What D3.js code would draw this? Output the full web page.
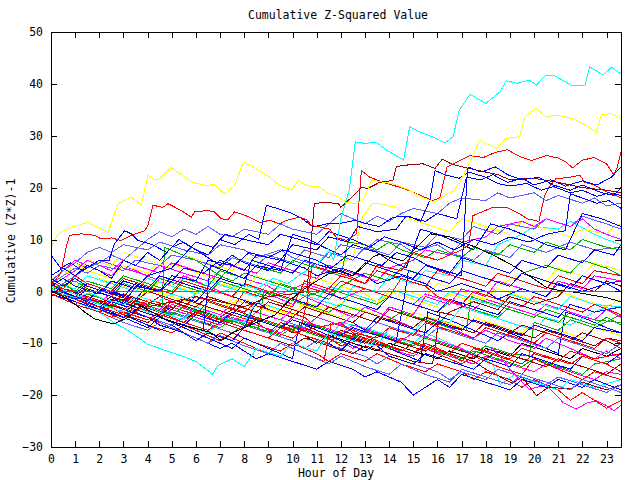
<!DOCTYPE html>
<html><head><meta charset="utf-8">
<script src="https://cdn.jsdelivr.net/npm/d3@7"></script>
<style>
html,body{margin:0;padding:0;background:#fff;}
svg{display:block;}
text{font-family:"DejaVu Sans Mono","Liberation Mono",monospace;font-size:11.5px;fill:#000;}
</style></head><body>
<svg id="c" width="640" height="480"></svg>
<script>
// ---- labels / ticks ----
const title = "Cumulative Z-Squared Value";
const xLabel = "Hour of Day";
const yLabel = "Cumulative (Z*Z)-1";
const xTickValues = [0,1,2,3,4,5,6,7,8,9,10,11,12,13,14,15,16,17,18,19,20,21,22,23];
const yTickValues = [-30,-20,-10,0,10,20,30,40,50];
const xDomain = [0, 23.6];
const yDomain = [-30, 50];

// ---- colours ----
const RED="#ff0000", GREEN="#00b000", BLUE="#0000ff", MAGENTA="#ff00ff", CYAN="#00ffff",
      DARKRED="#a00000", YELLOW="#ffff00", BLACK="#000000", LTBLUE="#6060ff";

// ---- series: [hour, value] ----
const cyanTop=[[0,0.5],[0.5,-0.5],[1,-1.2],[1.6,-0.3],[2.2,-1.5],[3,-2.5],[3.6,-1],[4.4,-2],[5,-0.5],[5.7,-1.5],[6.3,0.5],[7,-0.5],[7.8,1.5],[8.5,0.5],[9.2,2.5],[9.8,1.5],[10.4,3.5],[11,5],[11.5,8],[11.7,6],[12,14],[12.35,19.5],[12.6,28.8],[13.05,28.5],[13.45,28.8],[13.9,27.2],[14.6,25.3],[14.85,31.7],[15.3,30.7],[15.9,29.6],[16.3,28.6],[16.65,29.8],[16.9,34.9],[17.35,38],[18,36.2],[18.6,38.5],[18.85,40.6],[19.3,40.1],[19.8,40.7],[20.1,39.8],[20.5,41.7],[20.8,41.7],[21.6,39.6],[22.1,39.6],[22.3,43.3],[22.85,41.7],[23.2,43.2],[23.6,41.9]];
const cyan2=[[0,1],[1,-0.5],[2,-2.5],[3,-4],[3.5,-2],[4.5,-4],[5.5,-5.5],[6,-3],[7,-5],[8,-6],[8.5,-2],[9.5,-3.5],[10,0],[11,-1.5],[12,-3],[12.5,1],[13.5,0],[14,3],[15,1.5],[15.5,4],[16.5,3],[17,6],[18,5],[18.5,9],[19.5,11],[20,12.5],[21,12],[21.5,13.5],[22.5,11],[23,10],[23.6,9]];
const cyan3=[[0,0],[0.5,-1],[1,-2],[1.5,-3],[2,-4],[2.6,-6],[3,-7],[3.5,-8.5],[4,-10.2],[4.5,-11],[5.4,-12.4],[6,-13.5],[6.7,-16],[6.9,-14.3],[7.5,-13],[8,-14.5],[8.5,-11],[9.5,-12.5],[10,-10],[11,-11.5],[11.5,-8],[12.5,-9.5],[13.5,-10.5],[14,-7],[15,-8],[15.5,-5],[16.5,-6],[17,-3],[18,-4.5],[19,-6],[20,-7.5],[20.5,-5],[21.5,-6.5],[22.5,-4],[23,-3],[23.6,-5]];
const cyan4=[[0,0.5],[1,-1.5],[2,-3],[3,-5],[3.5,-3],[4.5,-5],[5.5,-6.5],[6.5,-8],[7,-6],[8,-7.5],[9,-9],[9.5,-6],[10.5,-7.5],[11.5,-9],[12,-6],[13,-7],[14,-8.5],[15,-10],[15.5,-8],[16.5,-10],[17.5,-12],[18.3,-14],[18.6,-18],[19.2,-16],[20,-17.5],[21,-19],[21.5,-17],[22.5,-18.5],[23.6,-17]];
const cyan5=[[0,1.5],[1,0.5],[1.5,3],[2.5,1.5],[3.5,0],[4,2.5],[5,1],[6,-0.5],[6.5,2],[7.5,0.5],[8.5,-1],[9,1.5],[10,0],[11,-1.5],[11.5,1],[12.5,-0.5],[13.5,-2],[14,0.5],[15,-1],[16,-2.5],[16.5,0],[17.5,-1.5],[18.5,-3],[19,-0.5],[20,-2],[21,-3.5],[21.5,-1],[22.5,-2.5],[23.6,-3]];

const yellowTop=[[0,8.5],[0.3,11.1],[0.77,12.3],[1.53,13.3],[2.36,11.4],[2.78,16.9],[3.32,18.2],[3.74,16.6],[4.01,22.4],[4.29,21.5],[4.5,21.7],[4.98,23.9],[5.81,21.1],[6.36,20.4],[6.77,20.6],[7.19,18.8],[7.6,20.4],[7.96,24.9],[8.37,24],[9.06,22],[9.47,20.4],[9.96,19.5],[10.23,21.4],[10.58,20.4],[11.13,20.1],[11.4,19.1],[11.89,18.2],[12.23,17.2],[12.58,16.9],[12.92,17.5],[13.27,21.4],[14.1,20.8],[14.71,19.8],[15.34,18.2],[15.89,17.2],[16.3,18.5],[16.7,19.5],[17.1,22.5],[17.47,26.2],[17.75,29.1],[18.16,28.2],[18.44,27.5],[18.85,29.5],[19.4,29.8],[19.61,33.6],[20.09,35.3],[20.51,33.6],[20.92,34],[21.61,33.3],[22.16,32],[22.58,30.7],[22.78,34],[23.2,34.3],[23.6,33.3]];
const yellow2=[[0,2],[0.5,4],[1,3],[1.5,6],[2.5,5],[3,7.5],[4,6],[5,4.5],[5.5,7],[6.5,5.5],[7.5,4],[8,6.5],[9,5],[10,3.5],[10.5,6],[11.5,4.5],[12.5,6.5],[12.9,14.3],[13.3,16.9],[13.6,16.9],[14.3,16.2],[14.7,14.3],[15.5,13],[16.5,11.5],[17,14],[18,12.5],[19,11],[19.5,13.5],[20.5,12],[21.5,10.5],[22,12],[23,11],[23.4,13],[23.6,12.7]];
const yellow3=[[0,1],[0.5,3],[1,5.5],[1.5,4],[2.5,2.5],[3,5],[4,3.5],[4.5,6],[5.5,4.5],[6.5,3],[7,1.5],[8,0],[8.5,3],[9.5,1.5],[10.5,0],[11,2.5],[12,1],[13,-0.5],[13.5,-2],[14.5,0.5],[15.5,-1],[16,1.5],[17,0],[18,-1.5],[18.5,1],[19.5,3.5],[20.5,2],[21,4.5],[22,3],[22.5,5.5],[23.6,4]];
const yellow4=[[0,0],[1,-1.5],[1.5,1],[2.5,-0.5],[3.5,-2],[4,0.5],[5,-1],[6,-2.5],[7,-4],[7.5,-1.5],[8.5,-3],[9.5,-4.5],[10,-2],[11,-3.5],[12,-5],[12.5,-3],[13.5,-4.5],[14.5,-6],[15,-4],[16,-5.5],[17,-7],[17.5,-5],[18.5,-6.5],[19.5,-8],[20,-6],[21,-7.5],[22,-9],[22.5,-7],[23.6,-8.5]];
const yellow5=[[0,0.5],[1,1.5],[1.5,0],[2,2.5],[3,1],[4,-0.5],[4.5,2],[5.5,0.5],[6.5,-1],[7,-3],[8,-1.5],[9,-3],[10,-4.5],[10.5,-2],[11.5,-3.5],[12.5,-1],[13.5,-2.5],[14,0],[15,-1.5],[16,-3],[16.5,-0.5],[17.5,-2],[18.5,0.5],[19.5,-1],[20.5,-2.5],[21,0],[22,-1.5],[23,-3],[23.6,-1.5]];

const redUpper=[[0,1],[0.4,3.5],[0.63,8.5],[0.77,10.8],[1.25,11.1],[1.81,10.8],[2.08,10.1],[2.5,10.3],[2.91,9.8],[3.32,10.8],[3.88,11.7],[4.01,12.7],[4.22,16.6],[4.63,16.2],[4.84,16.9],[5.39,15.6],[5.81,14.3],[5.94,15.3],[6.5,15.6],[6.77,15.3],[7.05,14],[7.32,13.8],[7.6,15.3],[7.94,14.8],[8.23,14.3],[8.65,13.3],[9.06,13.7],[9.47,13],[9.75,13.7],[10.3,14.3],[10.58,13.8],[10.79,12.7],[11.13,12.4],[11.54,12],[11.82,10.4],[12.23,9.8],[12.65,11.1],[12.85,23.3],[13.2,22],[13.9,20.8],[14.5,20],[15,19.1],[15.8,17.5],[16.1,18],[16.4,24],[17.34,26.2],[17.9,25.8],[18.4,26.8],[18.9,27.3],[19.4,26],[19.9,25.2],[20.5,26.2],[21,25.7],[21.3,25],[21.6,23.8],[22,25.3],[22.5,25.8],[23,24.6],[23.3,22.5],[23.45,24],[23.6,26.8]];
const redB=[[0,-0.5],[0.5,-1.5],[1,-2.5],[1.5,-1],[2.5,-2.5],[3.5,-4],[4,-1.5],[5,-3],[6,-4.5],[6.5,-2],[7.5,-3.5],[8,0],[9,-1.5],[10,-3],[10.5,2],[11.5,0.5],[12,3],[13,1.5],[13.5,5],[14.5,4],[15,7.5],[16,6],[17,8],[17.3,9],[17.47,14.6],[18.3,16.2],[18.85,16.2],[19.4,15],[19.7,14],[20.2,13.5],[20.44,18.5],[20.6,20],[20.9,21.7],[21.5,22],[21.9,22.4],[22.1,21],[22.5,20.5],[22.86,19.5],[23.27,18.7],[23.6,18]];
const redLow1=[[0,0],[0.5,-1],[1,-2],[1.5,-3],[2,-4],[2.5,-3],[3,-4.5],[3.5,-5.5],[4,-6.5],[5,-8],[5.5,-6.5],[6.5,-8.5],[7,-9.5],[7.5,-8],[8.5,-10],[9.5,-11.5],[10,-10],[11,-12],[11.5,-13.5],[12,-12],[13,-13.5],[13.5,-12],[14.5,-14],[15.5,-15.5],[16,-14],[17,-15.5],[17.5,-17],[18,-15.5],[19,-17],[19.5,-18.5],[20,-17],[21,-19],[21.5,-21],[22,-19.5],[22.5,-21],[23,-22.5],[23.6,-21]];
const redLow2=[[0,0.5],[1,-1],[2,-2.5],[2.5,-1],[3.5,-3],[4.5,-4.5],[5,-2.5],[6,-4],[7,-6],[7.5,-4.5],[8.5,-6],[9,-7.5],[10,-9],[10.5,-7],[11.5,-9],[12,-10.5],[13,-9],[14,-10.5],[15,-12],[15.5,-10],[16.5,-12],[17,-13.5],[17.5,-11],[18.5,-12.5],[19.5,-14],[20,-12],[21,-13.5],[21.5,-11.5],[22.5,-13],[23.6,-12]];
const redLow3=[[0,1],[1,0],[1.5,2],[2.5,0.5],[3,-1],[4,-2.5],[4.5,-1],[5.5,-3],[6,-1],[7,-2.5],[8,-4],[8.5,-2],[9.5,-3.5],[10.5,-5],[11,-7],[12,-6],[12.5,-8],[13.5,-9],[14,-7],[15,-8.5],[15.5,-6],[16.5,-7.5],[17.5,-9],[18,-7],[19,-8.5],[20,-10],[20.5,-8],[21.5,-9.5],[22.5,-11],[23,-9],[23.6,-10]];
const redLow4=[[0,-0.5],[0.5,-1.5],[1,-2.5],[2,-4],[2.5,-5],[3,-4],[4,-5.5],[4.5,-4],[5.5,-6],[6.5,-7.5],[7,-6],[8,-7.5],[9,-9],[9.5,-7],[10.5,-8.5],[11.5,-10],[12,-8],[13,-9.5],[14,-11],[14.5,-9],[15.5,-10.5],[16.5,-12],[17,-10],[18,-11.5],[19,-13],[19.5,-11],[20.5,-12.5],[21.5,-14],[22,-12.5],[23,-14],[23.6,-15.5]];
const redMid=[[0,2],[0.5,0.5],[1,3],[1.5,1.5],[2.5,0],[3,2.5],[4,1],[5,-0.5],[5.5,2],[6.5,0.5],[7.5,-1],[8,1.5],[9,0],[10,-1.5],[10.5,1],[11.5,-0.5],[12,2],[13,0.5],[14,-1],[14.5,2.5],[15.5,1],[16,4],[17,2.5],[18,1],[18.5,3.5],[19.5,2],[20.5,0.5],[21,3],[22,1.5],[22.5,4],[23.6,3]];
const redMid2=[[0,0],[1,-1.5],[2,-3],[3,-4.5],[3.5,-3],[4.5,-4.5],[5.5,-6],[6,-4],[7,-5.5],[8,-7],[8.5,-5],[9.5,-6.5],[10.3,-8],[10.6,-2],[10.8,5],[11.5,4],[12.3,3],[13,1.5],[13.5,4],[14.5,2.5],[15.5,1],[16,-1],[17,-2.5],[17.5,0],[18.5,-1.5],[19.5,-3],[20,-1],[21,-2.5],[22,-4],[22.5,-2.5],[23.6,-4.5]];
const redX=[[0,0.5],[1,-1.5],[2,-3.5],[3,-5.5],[3.5,-4],[4.5,-6],[5.5,-8],[6.5,-10],[7,-8],[8,-10],[9,-12],[9.5,-10],[10.5,-12],[11.3,-13.5],[11.6,-6],[12.5,-7.5],[13.5,-9.5],[14.5,-11.5],[15,-10],[16,-12],[17,-14],[17.5,-12.5],[18.5,-14.5],[19.5,-16],[20,-13],[21,-15],[22,-17],[22.5,-15.5],[23.6,-17]];

const darkredUpper=[[0,0],[1,-1],[2,-2],[3,-1.5],[4,-3],[5,-2],[6,-1],[7,-2],[8,-3],[9,-1],[10,-0.5],[10.6,0],[10.9,16.9],[11.3,17.2],[11.9,16.9],[12,16.2],[12.6,18.8],[12.85,20.1],[13.1,19.8],[13.6,21],[14.16,21.4],[14.3,24],[14.6,24.3],[15.4,24.6],[15.9,23.7],[16.2,25.5],[16.6,24.5],[17.5,23.5],[18.5,22.5],[19,21.5],[20,21.8],[21,21],[22,20],[23,19.5],[23.6,19]];
const darkred2=[[0,0],[1,-1],[2,-2.5],[2.5,-1],[3.5,-2.5],[4.5,-4],[5,-2],[6,-3.5],[7,-5],[7.5,-3.5],[8.5,-5],[9.5,-6.5],[10,-8],[11,-7],[12,-8.5],[13,-10],[13.5,-8.5],[14.5,-10],[15.5,-11.5],[16,-10],[17,-11.5],[18,-13],[18.5,-11.5],[19.5,-13],[20.5,-14.5],[21,-13],[22,-14.5],[23,-16],[23.6,-14]];
const darkred3=[[0,1],[1,-0.5],[2,-2],[3,-3.5],[3.5,-2],[4.5,-3.5],[5.5,-5],[6.5,-6.5],[7,-5],[8,-6.5],[9,-8],[9.5,-6],[10.5,-7.5],[11.5,-9],[12,-7.5],[13,-9],[14,-10.5],[15,-12],[15.5,-10.5],[16.5,-12],[17.5,-13.5],[18,-15],[19.1,-17.7],[19.5,-16.5],[20.1,-20.1],[20.6,-18.5],[21.5,-18.8],[22,-17.5],[23,-19],[23.6,-18]];
const darkred4=[[0,-1],[0.5,0.5],[1.5,-1],[2.5,-2.5],[3,-0.5],[4,-2],[5,-3.5],[5.5,-1.5],[6.5,-3],[7.5,-4.5],[8,-2],[9,-3.5],[10,-5],[10.5,-3],[11.5,-4.5],[12.5,-6],[13,-4],[14,-5.5],[15,-7],[15.5,-5],[16.5,-6.5],[17.5,-8],[18,-6],[19,-7.5],[20,-9],[20.5,-7.5],[21.5,-9],[22.5,-10.5],[23,-9],[23.6,-9.5]];
const darkred5=[[0,0.5],[1,-1],[1.5,1],[2.5,-0.5],[3.5,-2],[4,0],[5,-1.5],[6,-3],[6.5,-1],[7.5,-2.5],[8.5,-4],[9,-2],[10,-3.5],[11,-5],[11.5,-3],[12.5,-4.5],[13.5,-6],[14,-3.5],[15,-5],[16,-6.5],[16.5,-4],[17.5,-2],[18.5,-3.5],[19,-1],[20,-2.5],[21,-1],[21.5,1.5],[22.5,0],[23,2],[23.6,1]];
const darkredX=[[0,0],[1,-1.5],[2,-3],[3,-4.5],[4,-6],[4.5,-4.5],[5.5,-6],[6.5,-7.5],[7,-6],[8,-7.5],[9,-9],[10,-10.5],[10.5,-9],[11.5,-10.5],[12.5,-12],[13,-10.5],[14,-12],[15,-13.5],[15.8,-14],[16.1,-4],[17,-5],[18,-6.5],[19,-8],[19.5,-6.5],[20.5,-8],[21.5,-9.5],[22,-8],[23,-9.5],[23.6,-11]];

const blueHi1=[[0,7],[0.4,4.5],[0.8,5.5],[1.3,4],[2,6],[2.4,5.9],[2.63,9.2],[3.05,11.7],[3.32,11.1],[3.6,9.8],[4.2,9],[4.8,7.5],[5.3,10],[5.8,8.5],[6.5,7],[7,10],[7.6,9],[8.2,11],[8.6,10],[8.92,16.6],[9.5,15.8],[10,15],[10.4,14],[10.85,12.4],[11.4,13],[11.96,13.1],[12.6,13.7],[13.1,13],[13.6,12.5],[14.16,14.3],[14.8,14.5],[15.3,13.5],[15.68,17.5],[15.9,23.3],[16.3,22.5],[16.9,21.8],[17.3,23],[18,22],[18.5,20.8],[19,20.3],[19.7,20.8],[20.3,19.5],[20.8,20.2],[21.5,19],[22,19.5],[22.6,18.3],[23.1,19],[23.6,18.5]];
const blueHi2=[[0,0.5],[0.5,-0.5],[1,-1.5],[1.5,0.5],[2.5,-1],[3,-2.5],[3.5,1],[4.5,0],[5,3],[6,2],[6.5,6],[7.5,5],[8,4],[8.5,7],[9.5,6],[10,9],[11,8],[11.5,10.5],[12.3,9.5],[12.7,12.5],[13.5,11.5],[14.3,12],[14.7,14.5],[15.5,13.5],[16,15],[16.8,14],[17.2,22],[17.8,21.5],[18.3,22.5],[18.9,21],[19.5,21.8],[20,20.5],[20.7,21.5],[21.3,20.3],[22,21.3],[22.6,20.5],[23.2,22],[23.6,24]];
const blueHi3=[[0,1],[0.5,2.5],[1,1],[2,-0.5],[2.5,2],[3.5,0.5],[4,3],[5,4.5],[5.5,7],[6,9.5],[6.7,8.5],[7.2,11],[8,10],[9,9],[9.5,11],[10.3,10],[11,9],[11.5,11.5],[12.5,10],[13.2,8.5],[13.8,10.5],[14.5,9.5],[15.3,8],[16,9.5],[16.7,8],[17.5,10],[18.3,9],[19,10.5],[19.8,9.5],[20.5,11],[21.3,11.7],[21.5,18.8],[22,18],[22.6,17],[23.1,17.5],[23.6,16]];
const blueHi4=[[0,1.5],[0.5,0],[1,-1],[1.5,-2],[2,0.5],[3,-1],[3.5,1.5],[4.5,0],[5,2],[5.5,4.5],[6.3,3.5],[7,6],[7.6,5],[8.2,7.5],[9,6.5],[9.6,8],[10.3,7],[11,6],[11.6,4.5],[12.3,7],[13,6],[13.7,5],[14.3,7.5],[15,6.5],[15.6,5],[16.3,4],[17,3],[17.25,24],[17.8,23],[18.4,24],[18.9,22.5],[19.5,21.5],[20.2,22],[20.8,20.5],[21.5,19.5],[22,20.5],[22.8,19],[23.3,18.5],[23.6,20]];
const blueMid1=[[0,3],[0.5,4.5],[1,3],[1.5,5],[2,4],[2.5,2.5],[3,6],[3.5,5],[4,7.5],[4.5,6],[5,8.5],[5.5,9.5],[6,8],[6.5,6.5],[7,5],[7.5,7],[8,5.5],[9,4],[9.5,6],[10.5,4.5],[11,3],[12,4.5],[13,3],[13.5,1.5],[14.5,3],[15.5,1.5],[16,0],[17,1.5],[18,0],[18.5,-1.5],[19.5,0.5],[20.5,-1],[21,1.5],[22,0],[23,1.5],[23.6,2]];
const blueMid2=[[0,0],[1,-1.5],[2,-3],[2.5,-1.5],[3.5,-3],[4.5,-4.5],[5,-3],[6,-4.5],[7,-6],[7.5,-4],[8.5,-5.5],[9.5,-7],[10,-5.5],[11,-7],[12,-8.5],[12.5,-7],[13.5,-8.5],[14.3,-9.5],[14.6,-2],[14.8,4],[15.5,3],[16.5,1.5],[17,4],[18,2.5],[19,1],[19.5,3.5],[20.5,2],[21.5,0.5],[22,3],[23,1.5],[23.6,0]];
const blueMid3=[[0,2.5],[0.5,1],[1,2.5],[1.5,1],[2.5,-0.5],[3,2],[4,0.5],[4.5,3],[5.5,1.5],[6.5,0],[7,2.5],[8,1],[8.3,6],[9,5],[10,3.5],[10.5,6],[11.5,4.5],[12.5,3],[13,5.5],[14,4],[15,2.5],[15.5,5],[16.5,3.5],[17,6.5],[18,5],[19,3.5],[19.5,6],[20.5,4.5],[21,7],[22,5.5],[22.5,8],[23.3,7],[23.6,9]];
const blueMid4=[[0,1],[1,-0.5],[1.5,1.5],[2.5,0],[3.5,-1.5],[4,1],[5,-0.5],[6,-2],[6.5,0.5],[7.5,-1],[8.5,-2.5],[9,0],[10,-1.5],[11,-3],[11.5,-0.5],[12.5,-2],[13.5,-3.5],[14,-1],[15,-2.5],[16,-4],[16.5,-1.5],[17.5,-3],[18.5,-4.5],[19,-2],[20,-3.5],[21,-5],[21.5,-2.5],[22.5,-4],[23.6,-3]];
const blueLow1=[[0,0],[0.5,-1],[1,-2],[1.5,-3],[2,-4],[2.5,-5],[3,-4],[3.5,-5.5],[4,-6.5],[4.5,-7.5],[5,-6.5],[5.5,-8],[6,-9],[7,-11],[7.5,-10],[8,-11.5],[8.5,-13],[9,-12],[10,-13.5],[11,-15],[11.5,-13.5],[12.5,-15],[13,-16.5],[13.5,-15.5],[14.5,-17.5],[15,-20],[15.5,-18.5],[16,-17],[16.5,-18.5],[17,-16],[18,-17.5],[19,-19],[19.5,-17],[20.5,-18.5],[21,-17],[22,-18.5],[22.5,-17],[23.6,-19]];
const blueLow2=[[0,-0.5],[1,-2],[2,-3.5],[2.5,-2],[3.5,-3.5],[4.5,-5],[5.5,-6.5],[6,-4.5],[7,-6],[8,-7.5],[9,-9],[9.5,-7],[10.5,-8.5],[11.5,-10],[12,-11.5],[12.5,-9],[13.5,-10.5],[14,-12.5],[15,-14],[15.5,-12],[16.5,-13.5],[17.5,-15],[18,-13],[19,-14.5],[19.5,-12],[20.5,-13.5],[21.5,-15],[22,-12.5],[23,-14],[23.6,-12]];
const blueLow3=[[0,0.5],[0.5,-0.5],[1,-1.5],[1.5,-2.5],[2,-3.5],[2.5,-2.5],[3,-3.5],[4,-5],[4.5,-6.5],[5.5,-8],[6,-9.5],[6.5,-8],[7.5,-9.5],[8,-7],[8.5,-2],[9,-3.5],[10,-5],[10.5,-3],[11.5,-4.5],[12.5,-6],[13,-7.5],[13.5,-5],[14.5,-6.5],[15.5,-8],[16,-6],[17,-7.5],[17.5,-5.5],[18.5,-7],[19.5,-8.5],[20,-6.5],[21,-8],[22,-9.5],[22.5,-7],[23.6,-8]];
const blueX1=[[0,0],[1,-2],[2,-3.5],[3,-5],[3.5,-3.5],[4.5,-5],[5.5,-6.5],[6.3,-7.5],[6.6,5],[7.2,4],[8,2.5],[8.5,5],[9.5,4],[10,11],[10.7,10],[11.3,8.5],[12,7],[12.5,9],[13.5,7.5],[14,6],[14.7,4.5],[15.3,12],[16,11],[16.8,9.5],[17.5,8],[18.2,13],[19,12],[19.8,10.5],[20.5,9],[21.3,8],[22,15],[22.8,14],[23.6,12.5]];
const blueX2=[[0,1],[1,-1],[2,-3],[3,-5],[4,-7],[4.5,-5],[5.5,-7],[6.5,-9],[7.5,-11],[8,-9],[9,-11],[10,-13],[10.3,-6],[11,-7.5],[12,-9.5],[13,-11.5],[13.5,-10],[14.5,-12],[15.3,-13.5],[15.6,-4],[16.5,-5.5],[17.5,-7.5],[18.5,-9.5],[19,-8],[20,-10],[21,-12],[21.3,-4],[22,-5],[23,-7],[23.6,-8]];

const ltblue1=[[0,0],[0.5,1.5],[1,3],[1.5,4.5],[2,5.5],[2.5,7],[3,6],[3.5,8],[4,10],[4.5,11.5],[5,10.5],[5.5,12],[6,11],[6.5,12.5],[7,11],[7.5,10.5],[8,12],[9,11],[9.5,13],[10,12],[11,11],[11.5,13],[12,15],[12.5,14],[13,13],[13.5,14.5],[14,13.5],[14.5,15],[15,16],[16,15],[16.5,17],[17,18],[18,17.5],[18.5,19],[19,18],[20,19],[20.5,17.5],[21,18.5],[22,17],[22.5,18],[23,16.5],[23.6,17]];
const ltblue2=[[0,1.5],[0.5,3],[1,4.5],[1.5,3.5],[2,5],[3,4],[3.5,6],[4.5,5],[5,7],[6,6],[7,4.5],[7.5,6.5],[8.5,5],[9,7],[10,5.5],[10.5,8],[11.5,6.5],[12,9],[13,8],[13.5,10],[14.5,9],[15,7.5],[16,9],[16.5,7.5],[17.5,6],[18,8],[19,6.5],[19.5,9],[20.5,7.5],[21.5,9.5],[22.5,8],[23.6,8.5]];
const ltblue3=[[0,0],[1,-1.5],[2,-3],[2.5,-4.5],[3,-3.5],[4,-5],[5,-6.5],[5.5,-5],[6.5,-6.5],[7.5,-8],[8,-6.5],[9,-8],[10,-9.5],[10.5,-11],[11,-9.5],[12,-11],[13,-12.5],[13.5,-14],[14,-12.5],[15,-14],[16,-15.5],[16.5,-17],[17,-15.5],[18,-17],[18.5,-15],[19.5,-16.5],[20.5,-18],[21,-16.5],[22,-18],[23,-19.5],[23.6,-18]];
const ltblue4=[[0,0.5],[1,-1],[2,-2.5],[3,-4],[3.5,-2],[4.5,-3.5],[5.5,-5],[6,-3],[7,-4.5],[8,-6],[8.5,-4],[9.5,-5.5],[10.5,-7],[11,-5],[12,-6.5],[13,-8],[13.5,-6],[14.5,-7.5],[15.5,-9],[16,-7],[17,-8.5],[18,-10],[18.5,-8],[19.5,-9.5],[20.5,-11],[21,-9],[22,-10.5],[23,-12],[23.6,-10]];
const ltblue5=[[0,2],[0.5,4],[1,5.5],[1.5,7.5],[2,8.5],[2.5,7.5],[3,9],[4,8],[4.5,9.5],[5.5,8],[6.5,7],[7,9],[8,8],[8.5,6.5],[9.5,8],[10,6.5],[11,5],[11.5,7.5],[12.5,6],[13,8.5],[14,7],[14.5,9.5],[15.5,8.5],[16,11],[17,10],[17.5,12.5],[18.5,11],[19,13],[20,12],[20.5,14],[21.5,12.5],[22,14.5],[23,13],[23.6,12]];
const ltblueX=[[0,0],[1,-2],[2,-4],[3,-6],[4,-7.5],[4.5,-6],[5.5,-8],[6.5,-10],[7,-8.5],[8,-10.5],[9,-12],[9.5,-10],[10.5,-12],[11.5,-14],[12,-12.5],[13,-14.5],[14,-16],[14.5,-14],[15.5,-16],[16.5,-17.5],[17,-15],[18,-16.5],[19,-18],[19.5,-16],[20.5,-17.5],[21.5,-19],[22,-17],[23,-18.5],[23.6,-19.5]];

const mag1=[[0,0.5],[1,-1],[2,-2.5],[2.5,-1],[3.5,-2.5],[4.5,-4],[5,-2.5],[6,-4],[7,-5.5],[7.5,-4],[8.5,-5.5],[9.5,-7],[10,-5],[11,-6.5],[12,-8],[12.5,-6.5],[13.5,-8],[14.5,-9.5],[15,-8],[16,-9.5],[17,-11],[17.5,-12.5],[18.3,-11],[19,-15],[19.8,-18.9],[20.5,-18],[21.2,-21.4],[21.75,-22.7],[22.2,-21.5],[22.58,-21.1],[23,-22],[23.3,-23],[23.6,-22]];
const mag2=[[0,1],[0.5,2.5],[1,4],[1.5,6],[2,5],[2.5,4],[3,6],[3.5,5],[4.5,3.5],[5,5.5],[6,4],[7,2.5],[7.5,5],[8.5,3.5],[9,5.5],[10,4],[11,2.5],[11.5,5],[12.5,3.5],[13.5,2],[14,4.5],[15,6],[15.5,8],[16.5,7],[17,9.5],[18,10.5],[18.5,12.5],[19.5,13.5],[20,12.5],[20.5,14],[21.5,12.5],[22,14],[22.5,12],[23,11],[23.6,10]];
const mag3=[[0,2],[0.5,4],[1,5.5],[1.5,4.5],[2,6],[3,4.5],[4,3],[4.5,5],[5.5,3.5],[6.5,2],[7,4],[8,2.5],[9,1],[9.5,-0.5],[10.5,1.5],[11.5,0],[12,-1.5],[13,0.5],[14,-1],[15,-2.5],[15.5,-0.5],[16.5,-2],[17.5,-3.5],[18,-1.5],[19,-3],[20,-4.5],[20.5,-2.5],[21.5,-4],[22.5,-5.5],[23,-3.5],[23.6,-5]];
const mag4=[[0,0],[1,-1.5],[2,-3],[2.5,-2],[3.5,-3.5],[4.5,-5],[5,-3.5],[6,-5],[7,-6.5],[7.5,-5],[8.5,-6.5],[9.5,-8],[10,-6.5],[11,-8],[12,-9.5],[12.5,-11],[13,-9.5],[14,-11],[15,-12.5],[15.5,-11],[16.5,-12.5],[17.5,-14],[18,-12.5],[19,-14],[20,-15.5],[20.5,-14],[21.5,-15.5],[22.5,-17],[23,-15.5],[23.6,-16]];
const mag5=[[0,1],[1,-0.5],[2,-2],[2.5,-0.5],[3.5,-2],[4.5,-3.5],[5,-1.5],[6,-3],[7,-4.5],[7.5,-2.5],[8.5,-4],[9.5,-5.5],[10,-3.5],[11,-5],[12,-6.5],[12.5,-4.5],[13.5,-6],[14,-3],[15,-4.5],[15.5,-1],[16.5,-2.5],[17,0.5],[18,-1],[18.5,2],[19.5,0.5],[20.5,-1],[21,2],[22,0.5],[22.5,3],[23.6,2]];
const magX=[[0,2],[0.5,4],[1,6],[1.5,5],[2.5,3],[3,5],[4,3],[5,1],[5.5,3],[6.5,1],[7.5,-1],[8,1.5],[9,-0.5],[10,-2.5],[10.5,-1],[11.5,-3],[12.5,-5],[13,-3],[14,-5],[15,-7],[15.5,-5],[16.5,-7],[17.5,-9],[18,-7.5],[19,-9.5],[20,-11],[20.5,-9],[21.5,-11],[22.5,-13],[23,-11.5],[23.6,-13]];

const greenZero=[[0,0],[23.6,0]];
const green1=[[0,0],[0.5,1.5],[1,0],[1.5,2],[2.5,0.5],[3,3],[4,1.5],[5,0],[5.5,2.5],[6.5,1],[7,4],[8,2.5],[8.5,5],[9.5,3.5],[10,6],[11,4.5],[12,3],[12.3,9.5],[13,9],[13.5,8],[14,9.5],[14.5,8],[15.5,6.5],[16,8],[17,6.5],[17.5,8.5],[18.5,7],[19,9],[20,7.5],[20.5,9.5],[21.5,8],[22,10],[23,8.5],[23.6,8]];
const green2=[[0,0.5],[0.5,-0.5],[1,-1.5],[1.5,-0.5],[2.5,-2],[3,-1],[4,-2.5],[4.6,-3],[4.7,8.5],[5.2,7.5],[6,6],[6.5,4.5],[7,3],[7.5,2],[8,3.5],[9,2],[10,0.5],[10.5,-1],[11.5,0.5],[12.5,-1],[13.5,-2.5],[14,-1],[15,-2.5],[16,-4],[16.5,-2],[17.5,-3.5],[18.5,-5],[19,-3],[20,-4.5],[21,-6],[21.5,-4],[22.5,-5.5],[23.6,-6]];
const green3=[[0,0],[1,-1.5],[2,-3],[2.5,-2],[3.5,-3.5],[4.5,-5],[5,-4],[6,-5.5],[7,-7],[7.5,-5.5],[8.5,-7],[9.5,-8.5],[10,-7],[11,-8.5],[12,-10],[12.5,-8.5],[13.5,-10],[14.5,-11.5],[15,-10],[16,-11.5],[17,-13],[17.5,-11.5],[18.5,-13],[19.5,-14.5],[20,-13],[21,-14.5],[22,-16],[22.5,-14],[23.6,-13]];
const green4=[[0,1],[1,0],[1.5,-1.5],[2.5,-3],[3,-1.5],[4,-3],[5,-4.5],[5.5,-3],[6.5,-4.5],[7.5,-6],[8,-4.5],[9,-6],[10,-7.5],[10.5,-6],[11.5,-7.5],[12.5,-9],[13,-7.5],[14,-9],[15,-10.5],[15.5,-9],[16.5,-10.5],[17.5,-12],[18,-10.5],[19,-12],[19.8,-12.5],[20,-6],[21,-7.5],[21.5,-5.5],[22.5,-7],[23.6,-4.5]];
const green5=[[0,0.5],[1,2],[1.5,0.5],[2.5,-1],[3,1.5],[4,0],[4.5,2.5],[5.5,1],[6.5,-0.5],[7,2],[8,0.5],[9,-1],[9.5,1.5],[10.5,0],[11.5,-1.5],[12,1],[13,3.5],[14,2],[14.5,4.5],[15.5,3],[16.5,1.5],[17,4],[18,2.5],[19,1],[19.5,3.5],[20.5,5],[21.5,3.5],[22,6],[23,4.5],[23.6,3]];
const greenX=[[0,0],[1,-1],[2,-2.5],[3,-4],[3.5,-2],[4.5,-3.5],[5.5,-5],[6,-3.5],[7,-5],[8,-6.5],[8.6,-7],[8.8,0],[9.5,-1],[10.5,-2.5],[11.5,-4],[12,-2.5],[13,-4],[14,-5.5],[14.5,-4],[15.5,-5.5],[16.5,-7],[17.2,-7.5],[17.4,-1],[18,-2],[19,-3.5],[20,-5],[20.5,-3.5],[21.5,-5],[22.5,-6.5],[23,-5],[23.6,-6.5]];

const black1=[[0,0],[0.5,-1],[1,-2.5],[1.4,-4],[1.8,-5.3],[2.6,-6.3],[3.2,-5],[3.7,-2.8],[4.2,-4],[4.7,-5.3],[5.5,-6.6],[6.6,-7.9],[7.05,-9.5],[7.5,-8],[8.5,-6],[9.3,-4.5],[9.8,-2],[10.5,0.5],[11,2],[11.5,3.4],[12,4],[12.5,3],[13.06,5.3],[13.33,6.6],[13.6,7.2],[14,6.6],[14.58,5.9],[15.13,8.5],[15.7,11.1],[16.5,10.5],[17,9.5],[17.6,8.5],[18.3,7],[19,5.3],[19.8,3],[20.5,0.8],[21,0.2],[21.75,-0.2],[22.5,-0.8],[23,-1.2],[23.6,-2]];
const black2=[[0,0.5],[1,-1],[2,-2.5],[3,-4],[3.5,-2.5],[4.5,-4],[5.5,-5.5],[6,-4],[7,-5.5],[8,-7],[8.5,-5.5],[9.5,-7],[10.5,-8.5],[11,-10],[11.5,-8.5],[12.5,-10],[13.5,-11.5],[14,-10],[15,-11.5],[16,-13],[16.5,-11.5],[17.5,-13],[18,-11],[19,-12.5],[19.5,-10],[20.5,-11.5],[21.5,-13],[22,-11],[23,-12.5],[23.6,-11]];

// drawing order (first drawn = underneath)
const seriesList = [
  [redLow1,RED],[green3,GREEN],[blueLow1,BLUE],[mag4,MAGENTA],[cyan4,CYAN],[darkred3,DARKRED],[yellow4,YELLOW],[black2,BLACK],[ltblue3,LTBLUE],
  [redX,RED],[ltblueX,LTBLUE],[darkredX,DARKRED],[magX,MAGENTA],[blueX2,BLUE],[greenX,GREEN],
  [redLow2,RED],[green4,GREEN],[blueLow2,BLUE],[mag1,MAGENTA],[cyan3,CYAN],[darkred2,DARKRED],[yellow5,YELLOW],[ltblue4,LTBLUE],
  [redLow4,RED],[green2,GREEN],[blueLow3,BLUE],[mag3,MAGENTA],[cyan5,CYAN],[darkred4,DARKRED],[yellow3,YELLOW],[ltblue2,LTBLUE],
  [redLow3,RED],[green5,GREEN],[blueMid4,BLUE],[mag5,MAGENTA],[cyan2,CYAN],[darkred5,DARKRED],[yellow2,YELLOW],[ltblue5,LTBLUE],
  [redMid,RED],[green1,GREEN],[blueMid2,BLUE],[mag2,MAGENTA],[blueMid3,BLUE],[redMid2,RED],[ltblue1,LTBLUE],[blueMid1,BLUE],[blueX1,BLUE],
  [redB,RED],[blueHi3,BLUE],[darkredUpper,DARKRED],[blueHi4,BLUE],[black1,BLACK],[blueHi2,BLUE],[blueHi1,BLUE],
  [redUpper,RED],[yellowTop,YELLOW],[cyanTop,CYAN],[greenZero,GREEN]
];

// ---- layout ----
const mL=51,mR=621,mT=32,mB=447;
const svg=d3.select("#c");
const x=d3.scaleLinear().domain(xDomain).range([mL,mR]);
const y=d3.scaleLinear().domain(yDomain).range([mB,mT]);

svg.append("defs").append("clipPath").attr("id","pc").append("rect")
  .attr("x",mL).attr("y",mT).attr("width",mR-mL).attr("height",mB-mT);

const line=d3.line().x(d=>x(d[0])).y(d=>y(d[1]));
const g=svg.append("g").attr("clip-path","url(#pc)");
seriesList.forEach(([pts,col])=>{
  g.append("path").attr("d",line(pts)).attr("fill","none").attr("stroke",col)
   .attr("stroke-width",1).attr("shape-rendering","crispEdges");
});

function styleAxis(sel){
  sel.select(".domain").remove();
  sel.selectAll("line").attr("stroke","#000").attr("shape-rendering","crispEdges");
  sel.selectAll("text").attr("fill","#000").style("font-family",'"DejaVu Sans Mono",monospace').style("font-size","11.5px");
}
svg.append("g").attr("transform",`translate(0,${mB})`)
  .call(d3.axisBottom(x).tickValues(xTickValues).tickSize(-6).tickPadding(8).tickFormat(d3.format("d")))
  .call(styleAxis);
svg.append("g").attr("transform",`translate(0,${mT})`)
  .call(d3.axisTop(x).tickValues(xTickValues).tickSize(-6).tickFormat(""))
  .call(styleAxis);
svg.append("g").attr("transform",`translate(${mL},0)`)
  .call(d3.axisLeft(y).tickValues(yTickValues).tickSize(-6).tickPadding(8).tickFormat(d3.format("d")))
  .call(styleAxis);
svg.append("g").attr("transform",`translate(${mR},0)`)
  .call(d3.axisRight(y).tickValues(yTickValues).tickSize(-6).tickFormat(""))
  .call(styleAxis);

svg.append("rect").attr("x",mL).attr("y",mT).attr("width",mR-mL).attr("height",mB-mT)
  .attr("fill","none").attr("stroke","#000").attr("stroke-width",1).attr("shape-rendering","crispEdges");

svg.append("text").attr("x",338).attr("y",19).attr("text-anchor","middle").text(title);
svg.append("text").attr("x",336).attr("y",477).attr("text-anchor","middle").text(xLabel);
svg.append("text").attr("transform","translate(15,241) rotate(-90)").attr("text-anchor","middle").text(yLabel);
</script></body></html>
